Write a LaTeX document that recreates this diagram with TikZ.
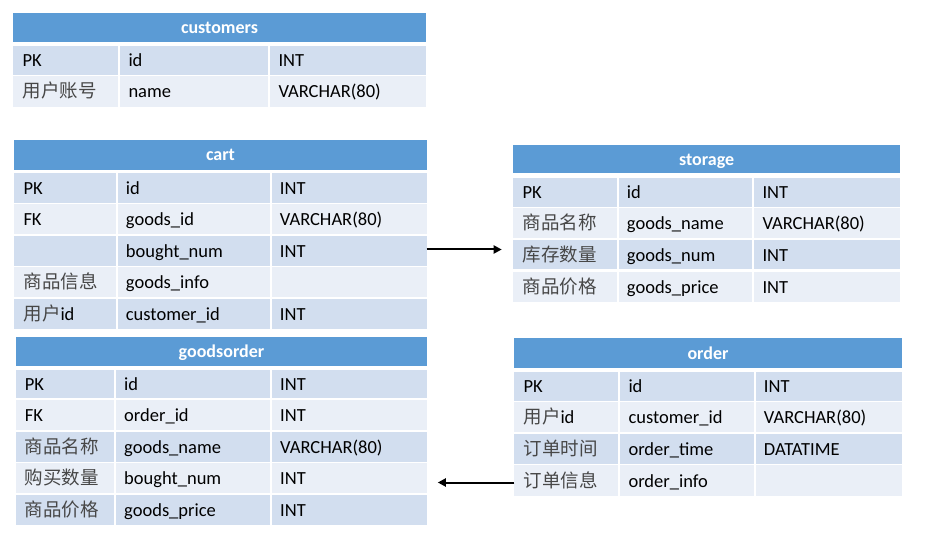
\documentclass[tikz,border=0pt]{standalone}
\usepackage{fontspec}
\setmainfont{Carlito}
\newfontfamily\cjkfont{Noto Sans CJK SC}
\newcommand\cjk{\cjkfont\color{black!72}}
\usetikzlibrary{fit,arrows.meta}
\definecolor{hdrblue}{HTML}{5B9BD5}
\definecolor{rowdark}{HTML}{D2DEEF}
\definecolor{rowlight}{HTML}{EAEFF7}
\tikzset{
  hdrbox/.style={fill=hdrblue, inner sep=0pt, outer sep=0pt},
  cellbox/.style={inner sep=0pt, outer sep=0pt},
  gapline/.style={white, line width=2pt},
  celltext/.style={anchor=base west, inner sep=0pt, font=\fontsize{18.5}{21}\selectfont},
  hdrtext/.style={anchor=base, inner sep=0pt, text=white, font=\bfseries\fontsize{18}{21}\selectfont},
  link/.style={line width=2pt, -{Triangle[length=8pt,width=8pt]}},
}
\newcommand\tablecols[4]{\def\xa{#1}\def\xb{#2}\def\xc{#3}\def\xd{#4}}
\newcommand\dbhead[4]{%
  \node[hdrbox, fit={(\xa,#2)(\xd,#3)}] (#1) {};
  \node[hdrtext] (#1-t) at ({(\xa+\xd)/2},{(#2+#3)/2+6}) {#4};
}
\newcommand\dbrow[7]{%
  \node[cellbox, fill=#4, fit={(\xa,#2)(\xd,#3)}] (#1) {};
  \draw[gapline] (\xb,#2) -- (\xb,#3) (\xc,#2) -- (\xc,#3);
  \node[celltext] (#1-a) at (\xa+9,{(#2+#3)/2+6.5}) {#5};
  \node[celltext] (#1-b) at (\xb+9,{(#2+#3)/2+6.5}) {#6};
  \node[celltext] (#1-c) at (\xc+9,{(#2+#3)/2+6.5}) {#7};
}
\begin{document}
\begin{tikzpicture}[x=1pt, y=-1pt]
\useasboundingbox (0,0) rectangle (931,537);
% customers
\tablecols{13.3}{119.3}{269.3}{425.7}
\dbhead{customers}{13.3}{41.7}{customers}
\dbrow{customers-r1}{45.7}{75}{rowdark}{PK}{id}{INT}
\dbrow{customers-r2}{76}{106.7}{rowlight}{{\cjk 用户账号}}{name}{VARCHAR(80)}
% cart
\tablecols{14.3}{116.7}{270.7}{426.7}
\dbhead{cart}{140}{170}{cart}
\dbrow{cart-r1}{173.3}{202.7}{rowdark}{PK}{id}{INT}
\dbrow{cart-r2}{204}{234}{rowlight}{FK}{goods\_id}{VARCHAR(80)}
\dbrow{cart-r3}{236}{266}{rowdark}{}{bought\_num}{INT}
\dbrow{cart-r4}{267}{297}{rowlight}{{\cjk 商品信息}}{goods\_info}{}
\dbrow{cart-r5}{299}{329}{rowdark}{{\cjk 用户}id}{customer\_id}{INT}
% storage
\tablecols{513.3}{617.7}{753.3}{900}
\dbhead{storage}{145}{173.3}{storage}
\dbrow{storage-r1}{177.7}{206.7}{rowdark}{PK}{id}{INT}
\dbrow{storage-r2}{208.3}{237.7}{rowlight}{{\cjk 商品名称}}{goods\_name}{VARCHAR(80)}
\dbrow{storage-r3}{240}{269.3}{rowdark}{{\cjk 库存数量}}{goods\_num}{INT}
\dbrow{storage-r4}{271.7}{301.7}{rowlight}{{\cjk 商品价格}}{goods\_price}{INT}
% goodsorder
\tablecols{15.7}{115}{271}{427.3}
\dbhead{goodsorder}{336.7}{365.7}{goodsorder}
\dbrow{goodsorder-r1}{370}{398.3}{rowdark}{PK}{id}{INT}
\dbrow{goodsorder-r2}{400.3}{430}{rowlight}{FK}{order\_id}{INT}
\dbrow{goodsorder-r3}{431.7}{461.7}{rowdark}{{\cjk 商品名称}}{goods\_name}{VARCHAR(80)}
\dbrow{goodsorder-r4}{463.3}{493.3}{rowlight}{{\cjk 购买数量}}{bought\_num}{INT}
\dbrow{goodsorder-r5}{495}{525}{rowdark}{{\cjk 商品价格}}{goods\_price}{INT}
% order
\tablecols{514.3}{619.3}{754.7}{901.7}
\dbhead{order}{338.3}{367.7}{order}
\dbrow{order-r1}{371.7}{400.7}{rowdark}{PK}{id}{INT}
\dbrow{order-r2}{402}{432.3}{rowlight}{{\cjk 用户}id}{customer\_id}{VARCHAR(80)}
\dbrow{order-r3}{433.7}{464}{rowdark}{{\cjk 订单时间}}{order\_time}{DATATIME}
\dbrow{order-r4}{465.3}{495.7}{rowlight}{{\cjk 订单信息}}{order\_info}{}
% connectors
\coordinate (a1s) at ([yshift=1.5pt]cart-r3.east);
\coordinate (a1e) at (a1s -| storage.west);
\coordinate (a2s) at ([yshift=-2pt]order-r4.west);
\coordinate (a2e) at (a2s -| goodsorder.east);
\draw[link, shorten >=11.6pt] (a1s) -- (a1e);
\draw[link, shorten >=10.5pt] (a2s) -- (a2e);
\end{tikzpicture}
\end{document}
